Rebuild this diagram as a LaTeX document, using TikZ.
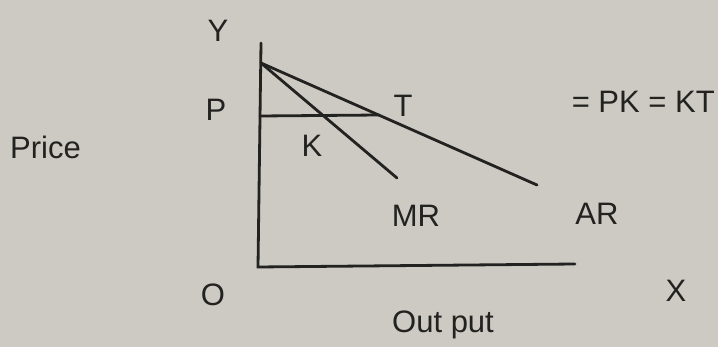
\documentclass[tikz,border=0pt]{standalone}
\usepackage{fontspec}
\setmainfont{Liberation Sans}
\definecolor{paper}{RGB}{204,202,194}
\definecolor{ink}{RGB}{34,34,32}
\begin{document}
\begin{tikzpicture}[x=1pt,y=-1pt,
  ln/.style={draw=ink,line width=2.8pt,line cap=round},
  lbl/.style={text=ink,font=\fontsize{31}{31}\selectfont,anchor=base,inner sep=0pt}]
\fill[paper] (0,0) rectangle (718,347);
\useasboundingbox (0,0) rectangle (718,347);
% points
\coordinate (ytop) at (261,43);
\coordinate (orig) at (258,267);
\coordinate (xend) at (575,264);
\coordinate (apex) at (261,63);
\coordinate (arend) at (537,185);
\coordinate (mrend) at (397,178);
\coordinate (pp) at (260,116);
\coordinate (tp) at (379,115);
% axes and curves
\draw[ln] (ytop) -- (orig) -- (xend);
\draw[ln] (apex) -- (arend);
\draw[ln] (apex) -- (mrend);
\draw[ln] (pp) -- (tp);
% labels
\node[lbl] (ly) at (218,42) {Y};
\node[lbl] (lp) at (216,121) {P};
\node[lbl] (lt) at (403,117) {T};
\node[lbl] (lk) at (312,157) {K};
\node[lbl] (lmr) at (416,227) {MR};
\node[lbl] (lar) at (597,225) {AR};
\node[lbl] (lo) at (213,306) {O};
\node[lbl] (lx) at (676,302) {X};
\node[lbl,anchor=base west] (lprice) at (10,159) {Price};
\node[lbl,anchor=base west] (lout) at (392,333) {Out put};
\node[lbl,anchor=base east] (leq) at (715,113) {= PK = KT};
\end{tikzpicture}
\end{document}
